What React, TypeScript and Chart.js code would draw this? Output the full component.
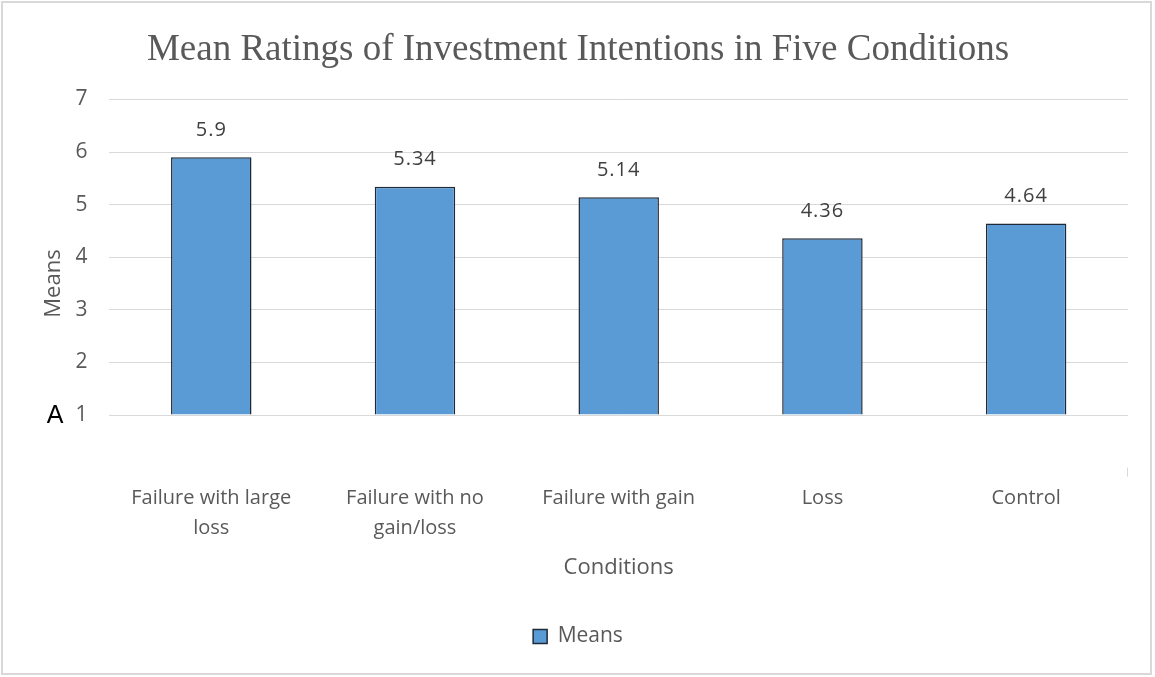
import React, { useEffect, useRef } from "react";
import { Chart, registerables } from "chart.js";

Chart.register(...registerables);

const categories: (string | string[])[] = [
  ["Failure with large", "loss"],
  ["Failure with no", "gain/loss"],
  "Failure with gain",
  "Loss",
  "Control",
];
const meanValues: number[] = [5.9, 5.34, 5.14, 4.36, 4.64];
const yTicks: number[] = [1, 2, 3, 4, 5, 6, 7];

const FONT = "'Open Sans', 'Noto Sans', sans-serif";
const GRAY = "#595959";

const extrasPlugin = {
  id: "extras",
  afterDatasetsDraw(chart: any) {
    const { ctx, chartArea } = chart;
    const meta = chart.getDatasetMeta(0);
    ctx.save();
    ctx.font = `20px ${FONT}`;
    (ctx as any).letterSpacing = "1px";
    ctx.fillStyle = "#404040";
    ctx.textAlign = "center";
    ctx.textBaseline = "middle";
    meta.data.forEach((bar: any, i: number) => {
      ctx.fillText(String(meanValues[i]), bar.x, bar.y - 27);
    });
    (ctx as any).letterSpacing = "0px";
    // small tick at right end of category axis
    ctx.strokeStyle = "#d9d9d9";
    ctx.lineWidth = 1;
    ctx.beginPath();
    ctx.moveTo(chartArea.right - 0.5, chartArea.bottom);
    ctx.lineTo(chartArea.right - 0.5, chartArea.bottom + 9);
    ctx.stroke();
    // "A" marker
    const yScale = chart.scales.y;
    ctx.font = `25px 'Liberation Sans', Arial, sans-serif`;
    ctx.fillStyle = "#000000";
    ctx.textAlign = "center";
    ctx.fillText("A", 55, yScale.getPixelForValue(1) + 1);
    ctx.restore();
  },
};

export default function App() {
  const ref = useRef<HTMLCanvasElement | null>(null);

  useEffect(() => {
    document.body.style.margin = "0";
    if (!ref.current) return;
    const chart = new Chart(ref.current, {
      type: "bar",
      data: {
        labels: categories,
        datasets: [
          {
            label: "Means",
            data: meanValues,
            base: 1,
            backgroundColor: "#5B9BD5",
            borderColor: "#1f2a36",
            borderWidth: 1.5,
            barPercentage: 0.395,
            categoryPercentage: 1,
          } as any,
        ],
      },
      options: {
        animation: false,
        responsive: false,
        maintainAspectRatio: false,
        layout: { padding: { left: 28, right: 27, top: 22, bottom: 20 } },
        plugins: {
          title: {
            display: true,
            text: "Mean Ratings of Investment Intentions in Five Conditions",
            font: { family: "'Liberation Serif', 'Times New Roman', serif", size: 37, weight: "normal" },
            color: GRAY,
            padding: { top: 6, bottom: 27 },
          },
          legend: {
            position: "bottom",
            labels: {
              boxWidth: 14,
              boxHeight: 14,
              color: GRAY,
              font: { family: FONT, size: 21 },
              padding: 10,
            },
          },
          tooltip: { enabled: false },
        },
        scales: {
          x: {
            grid: { display: false },
            border: { display: false },
            ticks: {
              color: GRAY,
              font: { family: FONT, size: 20, lineHeight: 1.5 },
              padding: 8,
              maxRotation: 0,
              autoSkip: false,
            },
            title: {
              display: true,
              text: "Conditions",
              color: GRAY,
              font: { family: FONT, size: 22 },
              padding: { top: 3, bottom: 35 },
            },
          },
          y: {
            min: 0,
            max: 7,
            border: { display: false },
            grid: {
              color: (c: any) => (c.tick && yTicks.includes(c.tick.value) ? "#d9d9d9" : "rgba(0,0,0,0)"),
              drawTicks: false,
            },
            ticks: {
              stepSize: 1,
              color: GRAY,
              font: { family: FONT, size: 21 },
              padding: 22,
              callback: (v: any) => (yTicks.includes(Number(v)) ? String(v) : ""),
            },
            title: {
              display: true,
              text: "Means",
              color: GRAY,
              font: { family: FONT, size: 22 },
              padding: { top: 13, bottom: -14 },
            },
          },
        },
      },
      plugins: [extrasPlugin],
    });
    return () => chart.destroy();
  }, []);

  return (
    <div style={{ position: "relative", width: 1155, height: 677, background: "#fff" }}>
      <canvas ref={ref} width={1155} height={677} style={{ display: "block", width: 1155, height: 677 }} />
      <div
        style={{
          position: "absolute",
          left: 1,
          top: 1,
          width: 1151,
          height: 674,
          border: "2px solid #d9d9d9",
          boxSizing: "border-box",
          pointerEvents: "none",
        }}
      />
    </div>
  );
}
